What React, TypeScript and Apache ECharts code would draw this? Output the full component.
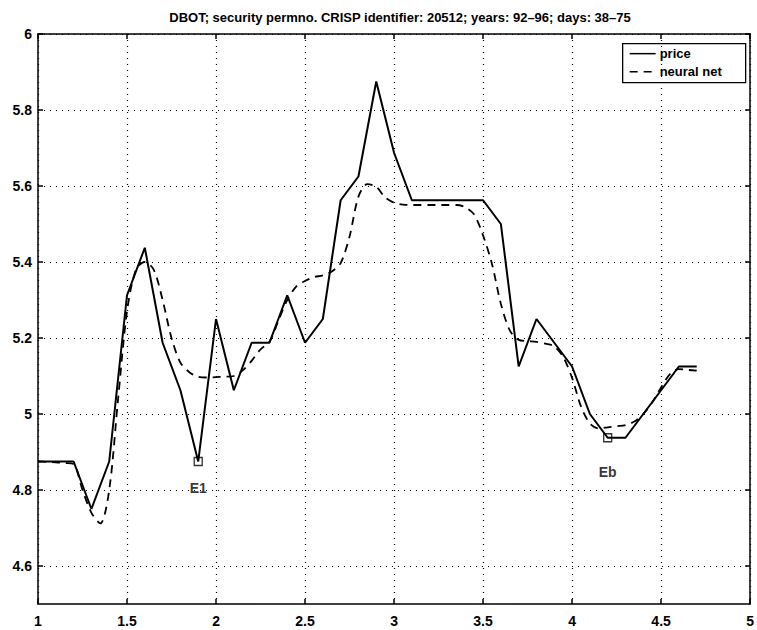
import React, { useEffect, useRef } from "react";
import * as echarts from "echarts";

// Daily closing price, sampled every 0.1 on the x axis (days 38–75)
const priceX = [
  1.0, 1.1, 1.2, 1.3, 1.4, 1.5, 1.6, 1.7, 1.8, 1.9,
  2.0, 2.1, 2.2, 2.3, 2.4, 2.5, 2.6, 2.7, 2.8, 2.9,
  3.0, 3.1, 3.2, 3.3, 3.4, 3.5, 3.6, 3.7, 3.8, 3.9,
  4.0, 4.1, 4.2, 4.3, 4.4, 4.5, 4.6, 4.7,
];
const priceY = [
  4.875, 4.875, 4.875, 4.75, 4.875, 5.3125, 5.4375, 5.1875, 5.0625, 4.875,
  5.25, 5.0625, 5.1875, 5.1875, 5.3125, 5.1875, 5.25, 5.5625, 5.625, 5.875,
  5.6875, 5.5625, 5.5625, 5.5625, 5.5625, 5.5625, 5.5, 5.125, 5.25, 5.1875,
  5.125, 5.0, 4.9375, 4.9375, 5.0, 5.0625, 5.125, 5.125,
];

// Neural network fit, evaluated on a finer grid
const netX = [
  1.0, 1.05, 1.1, 1.15, 1.2, 1.25, 1.3, 1.35, 1.4, 1.45,
  1.5, 1.55, 1.6, 1.65, 1.7, 1.75, 1.8, 1.85, 1.9, 1.95,
  2.0, 2.05, 2.1, 2.15, 2.2, 2.25, 2.3, 2.35, 2.4, 2.45,
  2.5, 2.55, 2.6, 2.65, 2.7, 2.75, 2.8, 2.85, 2.9, 2.95,
  3.0, 3.05, 3.1, 3.15, 3.2, 3.25, 3.3, 3.35, 3.4, 3.45,
  3.5, 3.55, 3.6, 3.65, 3.7, 3.75, 3.8, 3.85, 3.9, 3.95,
  4.0, 4.05, 4.1, 4.15, 4.2, 4.25, 4.3, 4.35, 4.4, 4.45,
  4.5, 4.55, 4.6, 4.65, 4.7,
];
const netY = [
  4.875, 4.874, 4.873, 4.871, 4.868, 4.8, 4.74, 4.712, 4.8, 5.04,
  5.27, 5.38, 5.4, 5.38, 5.3, 5.2, 5.135, 5.11, 5.098, 5.096,
  5.097, 5.098, 5.1, 5.115, 5.14, 5.17, 5.19, 5.245, 5.3, 5.335,
  5.35, 5.36, 5.365, 5.375, 5.397, 5.467, 5.572, 5.605, 5.598, 5.57,
  5.556, 5.551, 5.55, 5.55, 5.55, 5.55, 5.55, 5.55, 5.544, 5.525,
  5.47, 5.395, 5.29, 5.22, 5.195, 5.192, 5.19, 5.185, 5.178, 5.15,
  5.095, 5.02, 4.975, 4.962, 4.965, 4.968, 4.971, 4.98, 5.0, 5.03,
  5.07, 5.105, 5.118, 5.116, 5.114,
];

// Marked extrema
const markNames = ["E1", "Eb"];
const markX = [1.9, 4.2];
const markY = [4.875, 4.9375];

const xTicks = [1, 1.5, 2, 2.5, 3, 3.5, 4, 4.5, 5];
const yTicks = [4.6, 4.8, 5, 5.2, 5.4, 5.6, 5.8, 6];

const FONT = "'Liberation Sans', Arial, sans-serif";

export default function App() {
  const ref = useRef<HTMLDivElement>(null);

  useEffect(() => {
    if (!ref.current) return;
    const chart = echarts.init(ref.current, undefined, { renderer: "svg" });

    const price = priceX.map((x, i) => [x, priceY[i]]);
    const net = netX.map((x, i) => [x, netY[i]]);
    const marks = markX.map((x, i) => ({
      name: markNames[i],
      value: [x, markY[i]],
      label: { distance: i === 0 ? 15 : 23 },
    }));

    const labelStyle = {
      color: "#000",
      fontFamily: FONT,
      fontWeight: "bold" as const,
      fontSize: 14,
    };
    const frameLine = { show: true, lineStyle: { color: "#000", width: 1.5 } };
    const tick = (values: number[]) => ({
      show: true,
      inside: true,
      length: 5,
      customValues: values,
      lineStyle: { color: "#000", width: 1.5 },
    });
    const dotted = { show: true, lineStyle: { color: "#000", type: [1, 5], width: 1.2 } };
    const fmt = (v: number) => String(+v.toFixed(2));

    chart.setOption({
      animation: false,
      backgroundColor: "#fff",
      title: {
        text: "DBOT; security permno. CRISP identifier: 20512; years: 92–96; days: 38–75",
        left: 395,
        textAlign: "center",
        top: 6,
        textStyle: { color: "#000", fontFamily: FONT, fontSize: 13, fontWeight: "bold" },
      },
      grid: { left: 38, right: 5, top: 34, bottom: 26 },
      xAxis: [
        {
          type: "value",
          min: 1,
          max: 5,
          axisLine: frameLine,
          axisTick: tick(xTicks),
          axisLabel: { ...labelStyle, margin: 10, customValues: xTicks, formatter: fmt },
          splitLine: dotted,
        },
        {
          type: "value",
          position: "top",
          min: 1,
          max: 5,
          axisLine: frameLine,
          axisTick: tick(xTicks),
          axisLabel: { show: false },
          splitLine: { show: false },
        },
      ],
      yAxis: [
        {
          type: "value",
          min: 4.5,
          max: 6,
          axisLine: frameLine,
          axisTick: tick(yTicks),
          axisLabel: { ...labelStyle, margin: 6, customValues: yTicks, formatter: fmt },
          splitLine: dotted,
        },
        {
          type: "value",
          position: "right",
          min: 4.5,
          max: 6,
          axisLine: frameLine,
          axisTick: tick(yTicks),
          axisLabel: { show: false },
          splitLine: { show: false },
        },
      ],
      graphic: [
        {
          type: "group",
          left: 622,
          top: 43,
          z: 100,
          children: [
            {
              type: "rect",
              shape: { x: 0, y: 0, width: 123, height: 39 },
              style: { fill: "#fff", stroke: "#000", lineWidth: 1.3 },
            },
            {
              type: "line",
              shape: { x1: 7, y1: 10, x2: 33, y2: 10 },
              style: { stroke: "#000", lineWidth: 1.5 },
            },
            {
              type: "line",
              shape: { x1: 7, y1: 28, x2: 33, y2: 28 },
              style: { stroke: "#000", lineWidth: 1.5, lineDash: [8, 6] },
            },
            {
              type: "text",
              x: 37,
              y: 10,
              style: {
                text: "price",
                fill: "#000",
                font: `bold 13px ${FONT}`,
                verticalAlign: "middle",
              },
            },
            {
              type: "text",
              x: 37,
              y: 28,
              style: {
                text: "neural net",
                fill: "#000",
                font: `bold 13px ${FONT}`,
                verticalAlign: "middle",
              },
            },
          ],
        },
      ],
      series: [
        {
          name: "price",
          type: "line",
          data: price,
          showSymbol: false,
          symbol: "none",
          lineStyle: { color: "#000", width: 2, type: "solid" },
          itemStyle: { color: "#000" },
          z: 3,
        },
        {
          name: "neural net",
          type: "line",
          data: net,
          showSymbol: false,
          symbol: "none",
          smooth: 0.3,
          lineStyle: { color: "#000", width: 1.8, type: [8, 6] },
          itemStyle: { color: "#000" },
          z: 2,
        },
        {
          name: "extrema",
          type: "scatter",
          data: marks,
          symbol: "rect",
          symbolSize: 8,
          itemStyle: { color: "rgba(255,255,255,0)", borderColor: "#000", borderWidth: 1.3 },
          label: {
            show: true,
            position: "bottom",
            formatter: "{b}",
            ...labelStyle,
          },
          z: 4,
        },
      ],
    });

    return () => chart.dispose();
  }, []);

  return (
    <div
      ref={ref}
      style={{ position: "absolute", left: 0, top: 0, width: 757, height: 630 }}
    />
  );
}
